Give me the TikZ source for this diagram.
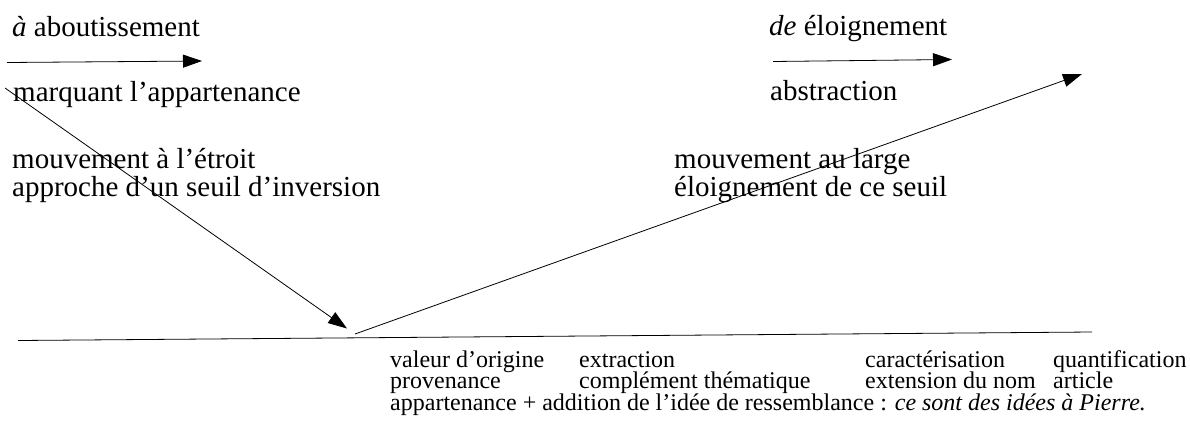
\documentclass[tikz,border=0pt]{standalone}
\usepackage{fontspec}
\setmainfont{Liberation Serif}
\usetikzlibrary{arrows.meta}
\begin{document}
\begin{tikzpicture}[x=1pt,y=-1pt,
  big/.style={anchor=base west,inner sep=0pt,text height=19pt,text depth=6pt,font=\fontsize{29}{33}\selectfont},
  small/.style={anchor=base west,inner sep=0pt,text height=15pt,text depth=4.5pt,font=\fontsize{24}{22}\selectfont},
  arr/.style={line width=0.8pt,-{Triangle[length=19pt,width=13pt]}},
  ln/.style={line width=0.8pt}]
\useasboundingbox (0,0) rectangle (1190,426);
% top labels
\node[big] (t1) at (12,36.5) {\textit{à} aboutissement};
\node[big] (t2) at (13,101.5) {marquant l’appartenance};
\node[big] (t3) at (12,168) {mouvement à l’étroit};
\node[big] (t4) at (12,196) {approche d’un seuil d’inversion};
\node[big] (u1) at (769,35.5) {\textit{de} éloignement};
\node[big] (u2) at (770,100.5) {abstraction};
\node[big] (u3) at (674,168) {mouvement au large};
\node[big] (u4) at (674,196) {éloignement de ce seuil};
% small arrows
\coordinate (a1s) at (7,62.5);
\coordinate (a1e) at (202,61);
\coordinate (a2s) at (773,61.5);
\coordinate (a2e) at (952,59.5);
\draw[arr] (a1s) -- (a1e);
\draw[arr] (a2s) -- (a2e);
% diagonal arrows
\coordinate (d1s) at (5,88);
\coordinate (d1e) at (347,328.5);
\coordinate (d2s) at (355,334);
\coordinate (d2e) at (1082,74);
\draw[arr] (d1s) -- (d1e);
\draw[arr] (d2s) -- (d2e);
% base line
\coordinate (b1) at (18,340.5);
\coordinate (b2) at (1092,332);
\draw[ln] (b1) -- (b2);
% bottom labels
\node[small] (c11) at (390,367) {valeur d’origine};
\node[small] (c12) at (390,388.5) {provenance};
\node[small] (c21) at (579,367) {extraction};
\node[small] (c22) at (579,388.5) {complément thématique};
\node[small] (c31) at (865,367) {caractérisation};
\node[small] (c32) at (865,388.5) {extension du nom};
\node[small] (c41) at (1053,367) {quantification};
\node[small] (c42) at (1053,388.5) {article};
\node[small] (r3) at (390,410) {appartenance + addition de l’idée de ressemblance : \textit{ce sont des idées à Pierre.}};
\end{tikzpicture}
\end{document}
